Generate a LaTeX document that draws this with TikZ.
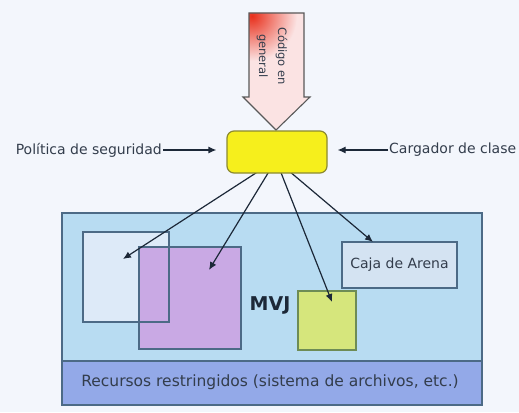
\documentclass[tikz,border=0pt]{standalone}
\usepackage{fontspec}
\setmainfont{DejaVu Sans}
\usetikzlibrary{arrows.meta}
\definecolor{bg}{HTML}{F3F6FC}
\definecolor{jvmfill}{HTML}{B8DCF2}
\definecolor{jvmline}{HTML}{4C6A86}
\definecolor{resfill}{HTML}{93A9E8}
\definecolor{wbox}{HTML}{DDEAF8}
\definecolor{pbox}{HTML}{C9A9E4}
\definecolor{gbox}{HTML}{D6E67C}
\definecolor{gline}{HTML}{6E8C55}
\definecolor{sbox}{HTML}{D4E3F2}
\definecolor{yfill}{HTML}{F6EF1C}
\definecolor{yline}{HTML}{8C8A30}
\definecolor{codefill}{HTML}{FBE3E3}
\definecolor{codered}{HTML}{E8301C}
\definecolor{ink}{HTML}{1C2838}
\tikzset{
  lbl/.style={font=\fontsize{14}{16}\selectfont, text=ink!90, inner sep=1pt},
  region/.style={draw=jvmline, line width=1.2pt},
  feed/.style={draw=ink, line width=1.2pt, -{Latex[length=8pt,width=7pt]}},
}
\begin{document}
\begin{tikzpicture}[x=1pt,y=-1pt]
  % canvas
  \fill[bg] (0,0) rectangle (519,412);
  \useasboundingbox (0,0) rectangle (519,412);

  % virtual machine area and restricted resources band
  \fill[jvmfill] (62,213) rectangle (482,361);
  \fill[resfill] (62,361) rectangle (482,405);
  \draw[region] (62,213) rectangle (482,405);
  \draw[region] (62,361) -- (482,361);
  \node[lbl, font=\fontsize{15.5}{17}\selectfont] (res) at (270,382)
    {Recursos restringidos (sistema de archivos, etc.)};
  \node[font=\fontsize{19}{21}\selectfont\bfseries, text=ink] (mvj) at (270,305) {MVJ};

  % inner boxes
  \fill[wbox] (83,232) rectangle (169,322);
  \fill[pbox] (139,247) rectangle (241,349);
  \draw[region] (139,247) rectangle (241,349);
  \draw[region] (83,232) rectangle (169,322);
  \fill[gbox] (298,291) rectangle (356,350);
  \draw[draw=gline, line width=1.2pt] (298,291) rectangle (356,350);
  \node[lbl, draw=jvmline, line width=1.2pt, fill=sbox, minimum width=115pt,
        minimum height=46pt, font=\fontsize{14}{16}\selectfont] (sand) at (399.5,265) {Caja de Arena};

  % arrow targets
  \coordinate (hub) at (276,160);
  \coordinate (tw) at (123,259);
  \coordinate (tp) at (209,270);
  \coordinate (tg) at (332,302);
  \coordinate (ts) at (373,242);
  \draw[feed] (hub) -- (tw);
  \draw[feed] (hub) -- (tp);
  \draw[feed] (hub) -- (tg);
  \draw[feed] (hub) -- (ts);

  % incoming code arrow
  \begin{scope}
    \path[clip] (249,13) -- (304,13) -- (304,97) -- (310,97) -- (276,130)
      -- (243,97) -- (249,97) -- cycle;
    \fill[codefill] (240,10) rectangle (312,132);
    \shade[inner color=codered, outer color=codefill] (252,16) circle (45);
  \end{scope}
  \draw[gray!70!black, line width=1.1pt, line join=miter] (249,13) -- (304,13) -- (304,97)
    -- (310,97) -- (276,130) -- (243,97) -- (249,97) -- cycle;
  \node[rotate=-90, align=center, text=ink!90, font=\fontsize{11.5}{19}\selectfont]
    (code) at (272,56) {Código en\\general};

  % security manager
  \node[draw=yline, fill=yfill, line width=1.2pt, rounded corners=7pt,
        minimum width=100pt, minimum height=42pt] (mgr) at (277,152) {};

  % side inputs
  \node[lbl, anchor=east] (pol) at (163,150) {Política de seguridad};
  \node[lbl, anchor=west] (cls) at (388,150) {Cargador de clase};
  \draw[feed, shorten >=10pt] (pol.east) -- (mgr.west |- pol.east);
  \draw[feed, shorten >=10pt] (cls.west) -- (mgr.east |- cls.west);
\end{tikzpicture}
\end{document}
